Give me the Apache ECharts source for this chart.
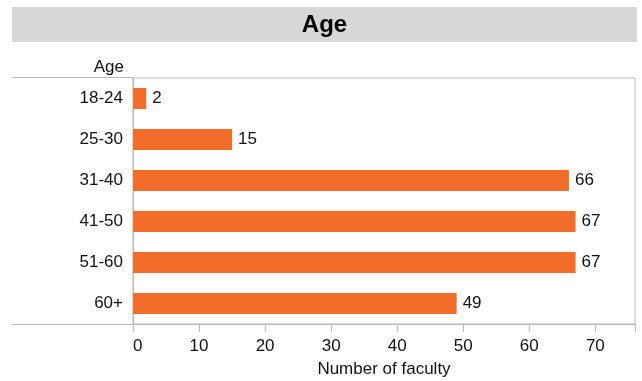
<!DOCTYPE html>
<html>
<head>
<meta charset="utf-8">
<script src="https://cdn.jsdelivr.net/npm/echarts@6/dist/echarts.min.js"></script>
<style>
  html, body { margin: 0; padding: 0; background: #fff; }
  #chart { width: 642px; height: 381px; }
</style>
</head>
<body>
<div id="chart"></div>
<script>
// Faculty counts by age group
const ageGroups = ['18-24', '25-30', '31-40', '41-50', '51-60', '60+'];
const facultyCounts = [2, 15, 66, 67, 67, 49];
const xTicks = { min: 0, max: 76, interval: 10 };

const FONT = 'Liberation Sans, Arial, sans-serif';
const LINE = '#b8b8b8';
const TEXT = '#111';
const FS = 17;

const chart = echarts.init(document.getElementById('chart'), null, { renderer: 'canvas' });

chart.setOption({
  animation: false,
  textStyle: { fontFamily: FONT },
  graphic: [
    { type: 'rect', shape: { x: 12, y: 7, width: 625, height: 35 }, style: { fill: '#d7d7d7' }, z: 0 },
    { type: 'text', x: 324.5, y: 25, style: { text: 'Age', fill: '#000', font: 'bold 24px ' + FONT, textAlign: 'center', textVerticalAlign: 'middle' }, z: 1 },
    { type: 'line', shape: { x1: 12, y1: 77.5, x2: 133, y2: 77.5 }, style: { stroke: LINE, lineWidth: 1 }, z: 1 },
    { type: 'line', shape: { x1: 12, y1: 324.5, x2: 133, y2: 324.5 }, style: { stroke: LINE, lineWidth: 1 }, z: 1 }
  ],
  grid: {
    left: 133, right: 7, top: 78, bottom: 57,
    containLabel: false,
    outerBoundsMode: 'none',
    show: true, borderColor: LINE, borderWidth: 1, backgroundColor: 'transparent'
  },
  xAxis: {
    type: 'value',
    min: xTicks.min, max: xTicks.max, interval: xTicks.interval,
    name: 'Number of faculty',
    nameLocation: 'middle',
    nameGap: 37,
    nameTextStyle: { color: TEXT, fontSize: FS, fontFamily: FONT },
    axisLine: { show: true, lineStyle: { color: LINE } },
    axisTick: { show: true, length: 8, lineStyle: { color: LINE } },
    axisLabel: {
      color: TEXT, fontSize: FS, fontFamily: FONT, margin: 14,
      alignMinLabel: 'left',
      formatter: v => (v % 10 === 0 ? String(v) : '')
    },
    splitLine: { show: false }
  },
  yAxis: {
    type: 'category',
    data: ageGroups,
    inverse: true,
    name: 'Age',
    nameLocation: 'start',
    nameGap: 2,
    nameTextStyle: { color: TEXT, fontSize: FS, fontFamily: FONT, align: 'right', verticalAlign: 'bottom', padding: [0, 9, 0, 0] },
    axisLine: { show: true, lineStyle: { color: LINE } },
    axisTick: { show: false },
    axisLabel: { color: TEXT, fontSize: FS, fontFamily: FONT, margin: 10 },
    splitLine: { show: false }
  },
  series: [{
    type: 'bar',
    data: facultyCounts,
    barWidth: 21,
    itemStyle: { color: '#f26c2a' },
    label: {
      show: true, position: 'right', distance: 6,
      color: TEXT, fontSize: FS, fontFamily: FONT
    }
  }]
});
</script>
</body>
</html>
